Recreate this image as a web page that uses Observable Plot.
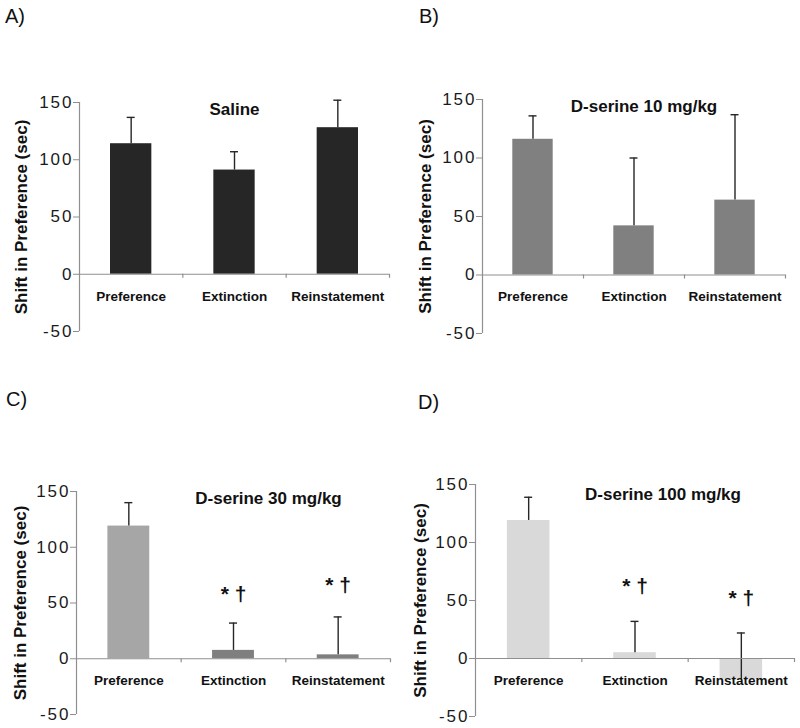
<!DOCTYPE html>
<html><head><meta charset="utf-8">
<script src="https://cdn.jsdelivr.net/npm/d3@7"></script>
<script src="https://cdn.jsdelivr.net/npm/@observablehq/plot@0.6"></script>
<style>
body{margin:0;background:#fff;}
#root{position:relative;width:800px;height:728px;font-family:"Liberation Sans",Arial,sans-serif;overflow:hidden;}
.panel{position:absolute;}
.plabel{position:absolute;font-size:20px;line-height:20px;color:#111;}
.panel svg g[aria-label="y-axis tick label"] text{letter-spacing:2px;}
</style></head><body><div id="root"></div>
<script>
// ---- data ----
const categories = ["Preference", "Extinction", "Reinstatement"];
const panelLabels = ["A)", "B)", "C)", "D)"];
const panelTitles = ["Saline", "D-serine 10 mg/kg", "D-serine 30 mg/kg", "D-serine 100 mg/kg"];
const salineMean = [114, 91, 128];
const salineSem = [23, 16, 24];
const dser10Mean = [116, 42, 64];
const dser10Sem = [20, 58, 73];
const dser30Mean = [119, 7.5, 3.5];
const dser30Sem = [21, 24.5, 34];
const dser100Mean = [119, 5, -18];
const dser100Sem = [20, 27, 40];
const salineMarks = ["", "", ""];
const dser10Marks = ["", "", ""];
const dser30Marks = ["", "* †", "* †"];
const dser100Marks = ["", "* †", "* †"];
const dser30MarkY = [null, 58, 66];
const dser100MarkY = [null, 62, 52];
const yTicks = [-50, 0, 50, 100, 150];
const yLabel = "Shift in Preference (sec)";

// ---- styles / layout ----
const panels = [
  {mean: salineMean, sem: salineSem, marks: salineMarks, markY: [null, null, null],
   fills: ["#262626", "#262626", "#262626"],
   left: 0, top: 0, mL: 79, mR: 11, mT: 102, mB: 33, tDx: 0, tDy: 7, yDx: -58, lx: 5, lb: 23},
  {mean: dser10Mean, sem: dser10Sem, marks: dser10Marks, markY: [null, null, null],
   fills: ["#808080", "#808080", "#808080"],
   left: 400, top: 0, mL: 82, mR: 15, mT: 99, mB: 31, tDx: 10, tDy: 7, yDx: -57, lx: 419, lb: 23},
  {mean: dser30Mean, sem: dser30Sem, marks: dser30Marks, markY: dser30MarkY,
   fills: ["#a6a6a6", "#7f7f7f", "#7f7f7f"],
   left: 0, top: 364, mL: 76, mR: 10, mT: 127, mB: 14, tDx: 35, tDy: 7, yDx: -56, lx: 6, lb: 406},
  {mean: dser100Mean, sem: dser100Sem, marks: dser100Marks, markY: dser100MarkY,
   fills: ["#d9d9d9", "#d9d9d9", "#d9d9d9"],
   left: 400, top: 364, mL: 75, mR: 6, mT: 120, mB: 12, tDx: 28, tDy: 10, yDx: -55, lx: 418, lb: 409}
];
const axisGray = "#8f8f8f";
const errColor = "#262626";
const barHalf = 0.2;
const fontFam = "'Liberation Sans', Arial, Helvetica, sans-serif";

const root = document.getElementById("root");

panels.forEach((p, k) => {
  const rows = categories.map((c, i) => ({
    cat: c, i, mean: p.mean[i], top: p.mean[i] + p.sem[i],
    fill: p.fills[i], mark: p.marks[i], markY: p.markY[i]
  }));
  const chart = Plot.plot({
    width: 400,
    height: 364,
    marginLeft: p.mL, marginRight: p.mR, marginTop: p.mT, marginBottom: p.mB,
    style: {fontFamily: fontFam, fontSize: "16px", background: "transparent", overflow: "visible"},
    x: {domain: [0, categories.length], axis: null},
    y: {domain: [-50, 150], axis: null},
    marks: [
      Plot.rectY(rows, {x1: d => d.i + 0.5 - barHalf, x2: d => d.i + 0.5 + barHalf, y: "mean", fill: "fill"}),
      Plot.ruleX(rows, {x: d => d.i + 0.5, y1: "mean", y2: "top", stroke: errColor, strokeWidth: 1.4}),
      Plot.ruleY(rows, {y: "top", x1: d => d.i + 0.5, x2: d => d.i + 0.5, insetLeft: -4, insetRight: -4, stroke: errColor, strokeWidth: 1.4}),
      Plot.ruleY([0], {stroke: axisGray, strokeWidth: 1.2}),
      Plot.ruleX([0], {stroke: axisGray, strokeWidth: 1.2}),
      Plot.ruleX(d3.range(1, categories.length + 1), {y1: 0, y2: 0, insetBottom: -4, stroke: axisGray, strokeWidth: 1.2}),
      Plot.axisY({ticks: yTicks, tickSize: 6, tickPadding: 0, stroke: axisGray, fill: "#1a1a1a", fontSize: 17, label: null, tickFormat: d => String(d)}),
      Plot.text(rows, {x: d => d.i + 0.5, y: 0, dy: 22, text: "cat", fontWeight: "bold", fontSize: 13.5, fill: "#111"}),
      Plot.text(rows.filter(d => d.mark), {x: d => d.i + 0.5, y: "markY", text: "mark", fontWeight: "bold", fontSize: 21, fill: "#111"}),
      Plot.text([panelTitles[k]], {frameAnchor: "top", dx: p.tDx, dy: p.tDy, lineAnchor: "middle", fontWeight: "bold", fontSize: 17, fill: "#111"}),
      Plot.text([yLabel], {frameAnchor: "left", textAnchor: "middle", dx: p.yDx, rotate: -90, lineAnchor: "middle", fontWeight: "bold", fontSize: 17, fill: "#111"})
    ]
  });
  const wrap = document.createElement("div");
  wrap.className = "panel";
  wrap.style.left = p.left + "px";
  wrap.style.top = p.top + "px";
  wrap.appendChild(chart);
  root.appendChild(wrap);
  const lab = document.createElement("div");
  lab.className = "plabel";
  lab.textContent = panelLabels[k];
  lab.style.left = p.lx + "px";
  lab.style.top = (p.lb - 17) + "px";
  root.appendChild(lab);
});
</script>
</body></html>
